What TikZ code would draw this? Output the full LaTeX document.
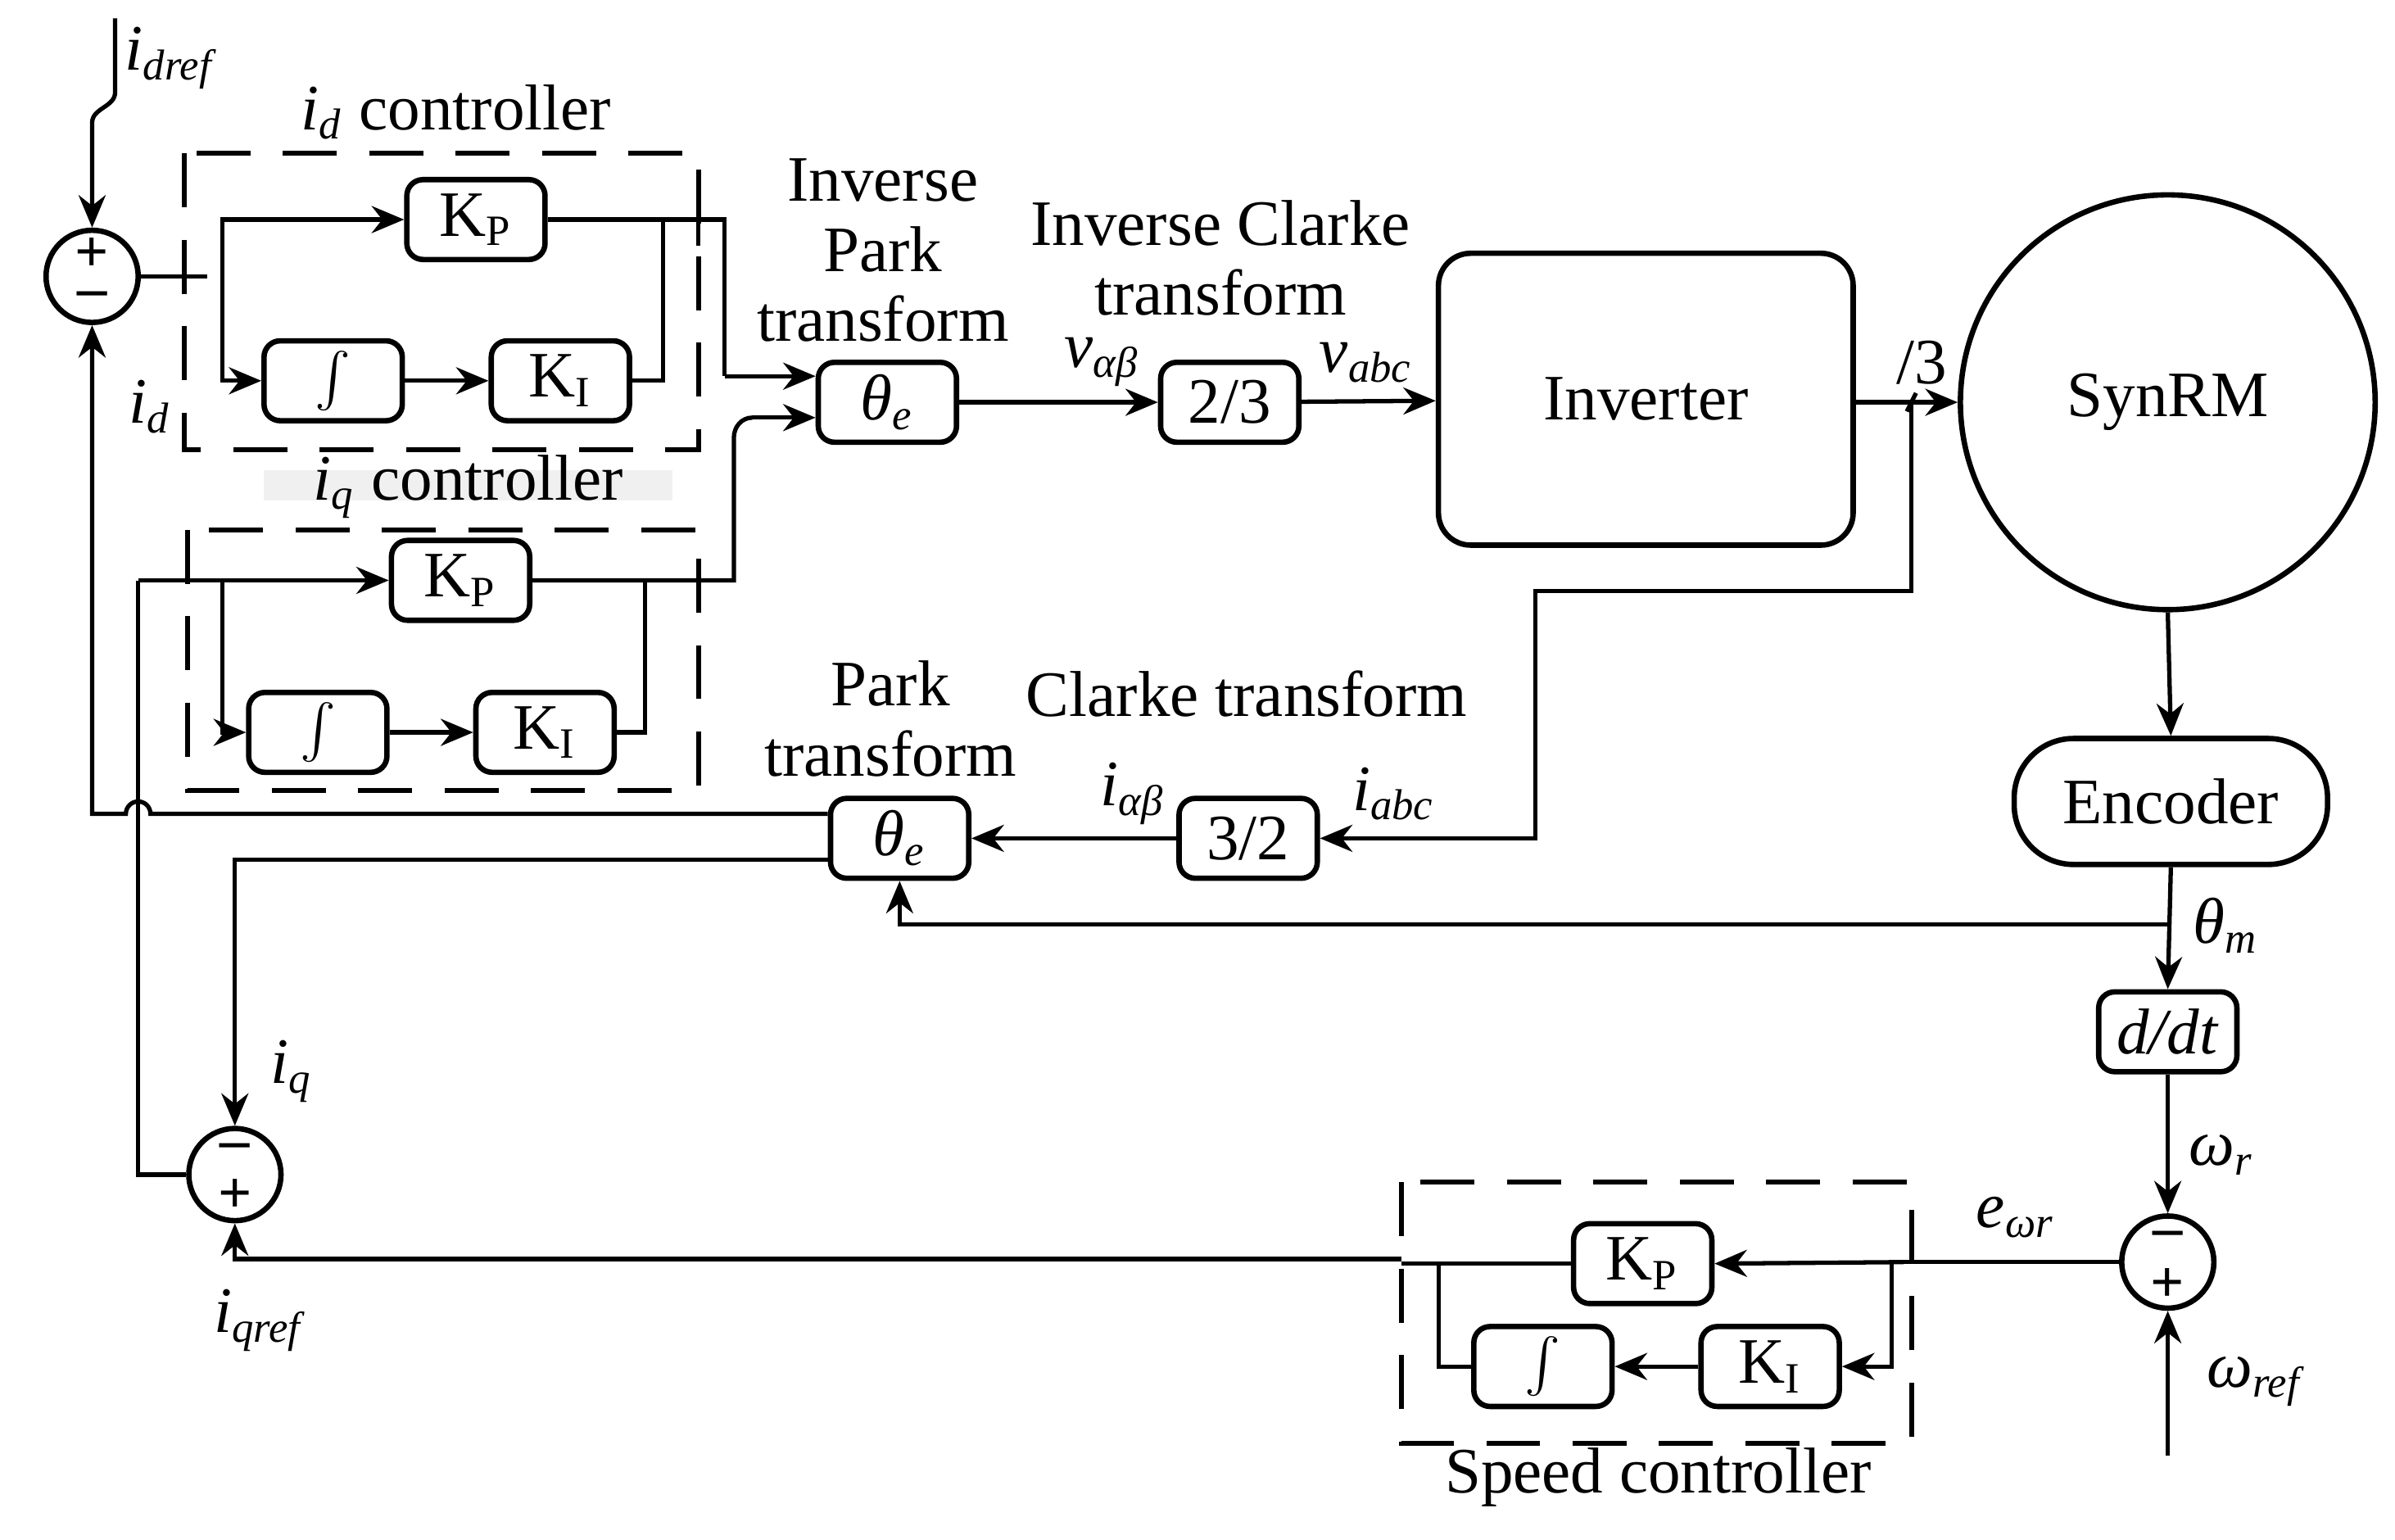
\documentclass[tikz,border=0pt]{standalone}
\usepackage{fontspec}
\setmainfont{Liberation Serif}
\usetikzlibrary{arrows.meta}
\newcommand{\vi}[2]{\textit{#1}\textsubscript{\textit{#2}}}
\begin{document}
\begin{tikzpicture}[x=0.01cm,y=-0.01cm,font=\fontsize{12}{14}\selectfont,
 line width=0.8pt, >={Stealth[length=6pt,width=5pt]},
 blk/.style={draw,rounded corners=3pt,minimum width=0.9cm,minimum height=0.52cm,inner sep=1pt,line width=1pt},
 sum/.style={draw,circle,minimum size=0.6cm,inner sep=0pt,line width=1pt},
 dbox/.style={draw,dash pattern=on 10pt off 6pt,line width=0.9pt},
 lbl/.style={align=center,font=\fontsize{12}{13}\selectfont},
 pm/.style={font=\fontsize{11}{11}\selectfont\bfseries,inner sep=0pt}]
\useasboundingbox (0,0) rectangle (1560,1003);
% sums
\node[sum] (s1) at (60,180) {};
\node[pm] at (60,166) {+}; \node[pm] at (60,195) {--};
\node[sum] (s2) at (153,765) {};
\node[pm] at (153,750) {--}; \node[pm] at (153,779) {+};
\node[sum] (s3) at (1412,822) {};
\node[pm] at (1412,807) {--}; \node[pm] at (1412,837) {+};
% id controller
\draw[dbox] (120,100) rectangle (455,293);
\node at (297,73) {\vi{i}{d} controller};
\node[blk] (kp1) at (310,143) {K$_\mathrm{P}$};
\node[blk] (in1) at (217,248) {$\int$};
\node[blk] (ki1) at (365,248) {K$_\mathrm{I}$};
% iq controller
\fill[black!6] (172,306) rectangle (438,326);
\node at (305,317) {\vi{i}{q} controller};
\draw[dbox] (122,345) rectangle (455,515);
\node[blk] (kp2) at (300,378) {K$_\mathrm{P}$};
\node[blk] (in2) at (207,477) {$\int$};
\node[blk] (ki2) at (355,477) {K$_\mathrm{I}$};
% transforms
\node[blk] (ip) at (578,262) {\vi{θ}{e}};
\node[lbl] at (575,163) {Inverse\\Park\\transform};
\node[blk] (ic) at (801,262) {2/3};
\node[lbl] at (795,168) {Inverse Clarke\\transform};
\node at (718,236) {\vi{v}{αβ}};
\node at (890,236) {\vi{v}{abc}};
\node[draw,rounded corners=6pt,line width=1pt,minimum width=2.7cm,minimum height=1.9cm] (inv) at (1072,260) {Inverter};
\node[draw,circle,line width=1pt,minimum size=2.7cm] (m) at (1412,262) {SynRM};
\node at (1252,236) {/3};
\node[blk] (pk) at (586,546) {\vi{θ}{e}};
\node[lbl] at (580,468) {Park\\transform};
\node[blk] (cl) at (813,546) {3/2};
\node at (812,452) {Clarke transform};
\node at (738,517) {\vi{i}{αβ}};
\node at (908,517) {\vi{i}{abc}};
\node[draw,rounded corners=11pt,line width=1pt,minimum width=2.04cm,minimum height=0.82cm] (enc) at (1414,522) {Encoder};
\node[blk] (dd) at (1412,672) {\textit{d/dt}};
\node at (1450,603) {\vi{θ}{m}};
\node at (1447,752) {\vi{ω}{r}};
\node at (1470,900) {\vi{ω}{ref}};
\node at (1313,793) {\vi{e}{ωr}};
% speed controller
\draw[dbox] (913,770) rectangle (1245,940);
\node at (1080,962) {Speed controller};
\node[blk] (kp3) at (1070,823) {K$_\mathrm{P}$};
\node[blk] (ki3) at (1153,890) {K$_\mathrm{I}$};
\node[blk] (in3) at (1005,890) {$\int$};
% labels
\node at (112,38) {\vi{i}{dref}};
\node at (98,265) {\vi{i}{d}};
\node at (190,698) {\vi{i}{q}};
\node at (170,860) {\vi{i}{qref}};
% connectors
\coordinate (idr) at (75,12);
\draw[->] (idr) -- (75,60) to[out=-90,in=90] (60,80) -- (s1.north);
\draw (s1.east) -- (135,180);
\draw[->] (145,180) |- (kp1.west);
\draw[->] (145,180) |- (in1.west);
\draw[->] (in1) -- (ki1);
\draw (kp1.east) -- (472,143) -- (472,245);
\draw (ki1.east) -- (432,248) -- (432,143);
\draw (455,125) -- (455,160);
\draw[->] (472,245) -- (ip.west|-0,245);
\draw (s2.west) -- (90,765) -- (90,378);
\draw[->] (90,378) -- (kp2.west);
\draw[->] (145,378) |- (in2.west);
\draw[->] (in2) -- (ki2);
\draw (kp2.east) -- (478,378) -- (478,285) to[out=90,in=180] (490,272);
\draw (ki2.east) -- (420,477) -- (420,378);
\draw[->] (490,272) -- (ip.west|-0,272);
\draw[->] (ip) -- (ic);
\draw[->] (ic) -- (inv);
\draw[->] (inv.east|-0,262) -- (m.west);
\draw (1242,268) -- (1248,256);
\draw[->] (1245,262) -- (1245,385) -- (1000,385) -- (1000,546) -- (cl.east);
\draw[->] (cl) -- (pk);
\draw[->] (m.south) -- (enc.north);
\draw[->] (enc.south) -- (dd.north);
\draw[->] (1412,602) -- (586,602) -- (pk.south);
\draw[->] (dd.south) -- (s3.north);
\coordinate (wr) at (1412,948);
\draw[->] (wr) -- (s3.south);
\draw (s3.west) -- (1240,822);
\draw[->] (1240,822) -- (kp3.east);
\draw[->] (1232,822) -- (1232,890) -- (ki3.east);
\draw[->] (ki3) -- (in3);
\draw (in3.west) -- (937,890) -- (937,823);
\draw (kp3.west) -- (913,823);
\draw[->] (913,820) -- (153,820) -- (s2.south);
\draw[->] (pk.west|-0,560) -- (153,560) -- (s2.north);
\draw[->] (pk.west|-0,530) -- (98,530) arc (0:-180:8) -- (60,530) -- (s1.south);
\end{tikzpicture}
\end{document}
